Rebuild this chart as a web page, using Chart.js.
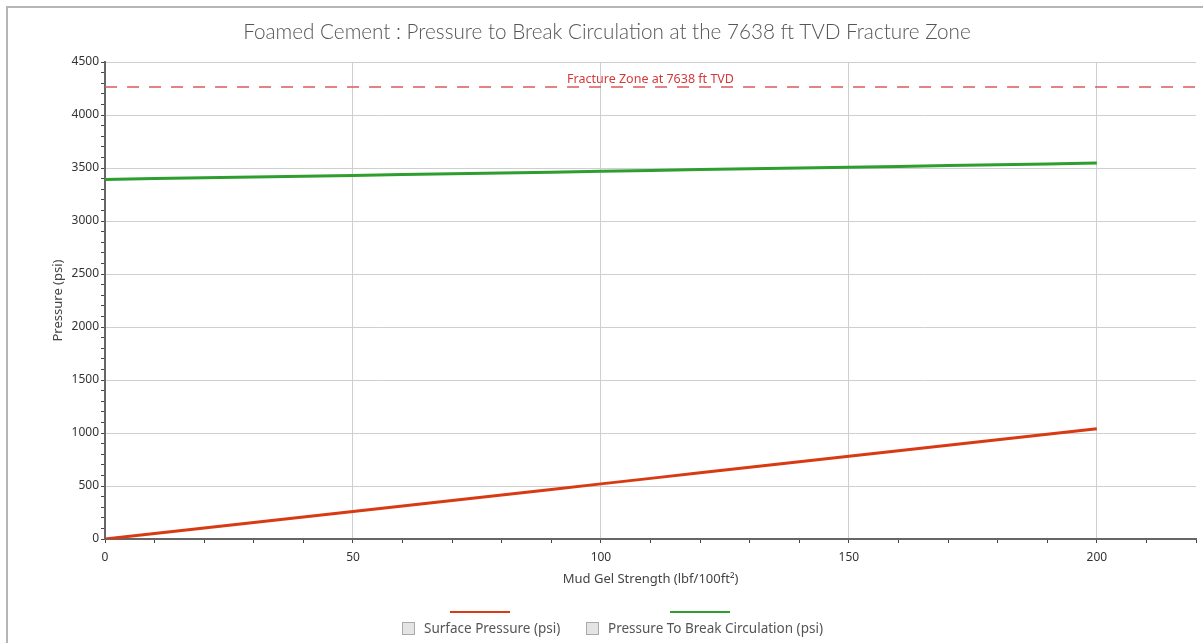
<!DOCTYPE html>
<html>
<head>
<meta charset="utf-8">
<script src="https://cdn.jsdelivr.net/npm/chart.js@4"></script>
<style>
  html, body { margin: 0; padding: 0; background: #fff; }
  #wrap { position: relative; width: 1203px; height: 643px; overflow: hidden; }
  #frame { position: absolute; left: 6px; top: 6px; width: 1300px; height: 700px; border: 2px solid #b5b5b5; box-sizing: border-box; }
  canvas { position: absolute; left: 0; top: 0; }
  #title { position: absolute; left: 0; width: 1214px; top: 19px; text-align: center; font-family: Lato, sans-serif; font-weight: 300; font-size: 20.7px; color: #555; white-space: nowrap; }
  .leg { position: absolute; top: 603px; font-family: "Noto Sans", sans-serif; font-size: 13.5px; color: #555; }
  .leg .ln { position: absolute; height: 2px; top: 8px; }
  .leg .bx { position: absolute; top: 19px; width: 13px; height: 13px; border: 1px solid #aaa; background: #e4e4e4; box-sizing: border-box; }
  .leg .tx { position: absolute; top: 16px; white-space: nowrap; }
</style>
</head>
<body>
<div id="wrap">
  <div id="frame"></div>
  <canvas id="gelChart" width="1203" height="643"></canvas>
  <div id="title">Foamed Cement : Pressure to Break Circulation at the 7638 ft TVD Fracture Zone</div>
  <div id="legend"></div>
</div>
<script>
// Mud gel strength (lbf/100ft2)
const gelStrength = [0, 10, 20, 30, 40, 50, 60, 70, 80, 90, 100, 110, 120, 130, 140, 150, 160, 170, 180, 190, 200];
// Surface pressure (psi)
const surfacePressure = [0, 52, 104, 156, 208, 260, 312, 364, 416, 468, 520, 572, 624, 676, 728, 780, 832, 884, 936, 988, 1040];
// Pressure to break circulation (psi)
const breakCirculation = [3392, 3400, 3407, 3415, 3423, 3430, 3438, 3446, 3454, 3461, 3469, 3477, 3485, 3492, 3500, 3508, 3515, 3523, 3531, 3538, 3546];
// Fracture zone limit
const fractureX = [0, 220];
const fractureY = [4265, 4265];
const fractureLabel = "Fracture Zone at 7638 ft TVD";

const seriesNames = ["Surface Pressure (psi)", "Pressure To Break Circulation (psi)"];
const seriesColors = ["#d83a14", "#2e9e2e"];

const toPoints = (xs, ys) => xs.map((x, i) => ({ x, y: ys[i] }));

// label above the dashed fracture line
const fractureLabelPlugin = {
  id: "fractureLabel",
  afterDatasetsDraw(chart) {
    const { ctx, scales } = chart;
    const px = scales.x.getPixelForValue(110);
    const py = scales.y.getPixelForValue(fractureY[0]);
    ctx.save();
    ctx.font = "12.5px 'Noto Sans', sans-serif";
    ctx.fillStyle = "#d43a3a";
    ctx.textAlign = "center";
    ctx.textBaseline = "bottom";
    ctx.fillText(fractureLabel, px, py - 1);
    ctx.restore();
  }
};

const ctx = document.getElementById("gelChart").getContext("2d");
new Chart(ctx, {
  type: "line",
  data: {
    datasets: [
      {
        label: seriesNames[0],
        data: toPoints(gelStrength, surfacePressure),
        borderColor: seriesColors[0],
        borderWidth: 3,
        pointRadius: 0
      },
      {
        label: seriesNames[1],
        data: toPoints(gelStrength, breakCirculation),
        borderColor: seriesColors[1],
        borderWidth: 3,
        pointRadius: 0
      },
      {
        label: "Fracture",
        data: toPoints(fractureX, fractureY),
        borderColor: "#d9595c",
        borderWidth: 1.5,
        borderDash: [12, 10],
        pointRadius: 0
      }
    ]
  },
  options: {
    responsive: false,
    animation: false,
    layout: { padding: { left: 46, right: 5, top: 62, bottom: 52 } },
    plugins: {
      legend: { display: false },
      tooltip: { enabled: false },
      title: { display: false }
    },
    scales: {
      x: {
        type: "linear",
        min: 0,
        max: 220,
        border: { color: "#666", width: 2 },
        grid: {
          color: c => (c.tick && c.tick.value % 50 === 0 && c.tick.value !== 0) ? "#cfcfcf" : "transparent",
          tickColor: "#444",
          tickLength: 4
        },
        ticks: {
          stepSize: 10,
          autoSkip: false,
          maxRotation: 0,
          color: "#333",
          font: { family: "Noto Sans", size: 12 },
          padding: 7,
          callback: v => (v % 50 === 0 && v <= 200) ? v : ""
        },
        title: {
          display: true,
          text: "Mud Gel Strength (lbf/100ft²)",
          color: "#444",
          font: { family: "Noto Sans", size: 13 },
          padding: { top: 0 }
        }
      },
      y: {
        min: 0,
        max: 4500,
        border: { color: "#666", width: 2 },
        grid: {
          color: c => (c.tick && c.tick.value % 500 === 0 && c.tick.value !== 0) ? "#cfcfcf" : "transparent",
          tickColor: "#444",
          tickLength: 4
        },
        ticks: {
          stepSize: 100,
          autoSkip: false,
          color: "#333",
          font: { family: "Noto Sans", size: 12 },
          padding: 2,
          callback: v => v % 500 === 0 ? v : ""
        },
        title: {
          display: true,
          text: "Pressure (psi)",
          color: "#444",
          font: { family: "Noto Sans", size: 13 },
          padding: { bottom: 4 }
        }
      }
    }
  },
  plugins: [fractureLabelPlugin]
});

// legend below the plot, line sample above a checkbox and label
const legendSpots = [
  { line: [450, 60], box: 402, text: 424 },
  { line: [670, 60], box: 586, text: 608 }
];
const legendEl = document.getElementById("legend");
seriesNames.forEach((name, i) => {
  const s = legendSpots[i];
  const item = document.createElement("div");
  item.className = "leg";
  item.innerHTML =
    `<div class="ln" style="left:${s.line[0]}px;width:${s.line[1]}px;background:${seriesColors[i]}"></div>` +
    `<div class="bx" style="left:${s.box}px"></div>` +
    `<div class="tx" style="left:${s.text}px">${name}</div>`;
  legendEl.appendChild(item);
});
</script>
</body>
</html>
